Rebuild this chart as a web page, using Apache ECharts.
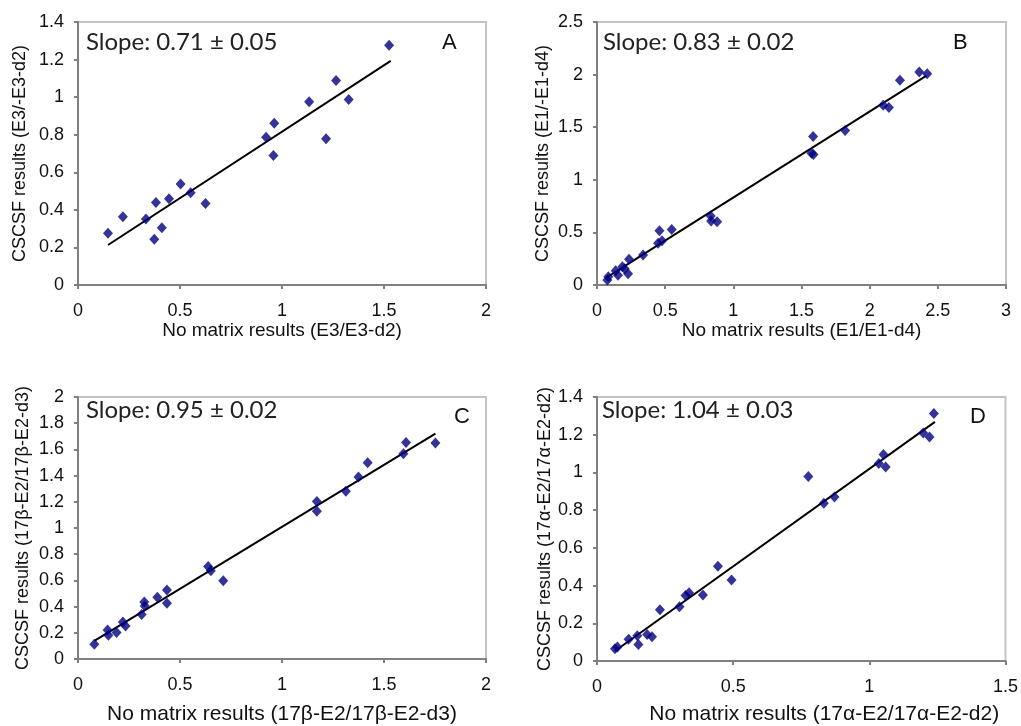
<!DOCTYPE html>
<html><head><meta charset="utf-8">
<script src="https://cdn.jsdelivr.net/npm/echarts@6/dist/echarts.min.js"></script>
<style>html,body{margin:0;padding:0;background:#fff}#c{width:1021px;height:726px}</style>
</head><body><div id="c"></div>
<script>
// Panel A
const aPoints = [[0.147,0.275],[0.220,0.363],[0.333,0.351],[0.374,0.243],[0.382,0.439],[0.411,0.305],[0.446,0.459],[0.503,0.537],[0.552,0.491],[0.625,0.434],[0.922,0.787],[0.962,0.861],[0.958,0.689],[1.133,0.976],[1.216,0.778],[1.265,1.088],[1.327,0.987],[1.525,1.276]];
const aTrend = [[0.147,0.213],[1.533,1.193]];
// Panel B
const bPoints = [[0.076,0.047],[0.083,0.079],[0.137,0.136],[0.154,0.092],[0.186,0.174],[0.203,0.155],[0.228,0.108],[0.235,0.244],[0.338,0.285],[0.448,0.396],[0.458,0.516],[0.477,0.421],[0.548,0.528],[0.834,0.655],[0.837,0.608],[0.881,0.601],[1.573,1.253],[1.585,1.411],[1.588,1.241],[1.820,1.468],[2.099,1.709],[2.141,1.687],[2.222,1.946],[2.364,2.025],[2.422,2.009]];
const bTrend = [[0.069,0.070],[2.417,1.991]];
// Panel C
const cPoints = [[0.080,0.113],[0.145,0.222],[0.149,0.182],[0.189,0.202],[0.220,0.282],[0.233,0.252],[0.312,0.340],[0.325,0.436],[0.327,0.404],[0.389,0.472],[0.436,0.527],[0.436,0.426],[0.638,0.706],[0.651,0.673],[0.712,0.598],[1.171,1.203],[1.171,1.127],[1.313,1.281],[1.375,1.390],[1.420,1.498],[1.595,1.566],[1.608,1.652],[1.752,1.649]];
const cTrend = [[0.080,0.139],[1.752,1.720]];
// Panel D
const dPoints = [[0.066,0.065],[0.075,0.074],[0.116,0.115],[0.148,0.134],[0.152,0.088],[0.184,0.141],[0.202,0.129],[0.231,0.272],[0.303,0.288],[0.325,0.348],[0.338,0.362],[0.389,0.350],[0.444,0.503],[0.494,0.429],[0.776,0.978],[0.833,0.837],[0.872,0.870],[1.035,1.047],[1.052,1.095],[1.060,1.029],[1.198,1.209],[1.221,1.188],[1.237,1.312]];
const dTrend = [[0.066,0.053],[1.241,1.268]];

const panelLetters = ['A','B','C','D'];
const slopeTexts = ['Slope: 0.71 \u00b1 0.05','Slope: 0.83 \u00b1 0.02','Slope: 0.95 \u00b1 0.02','Slope: 1.04 \u00b1 0.03'];
const xNames = ['No matrix results (E3/E3-d2)','No matrix results (E1/E1-d4)','No matrix results (17\u03b2-E2/17\u03b2-E2-d3)','No matrix results (17\u03b1-E2/17\u03b1-E2-d2)'];
const yNames = ['CSCSF results (E3/-E3-d2)','CSCSF results (E1/-E1-d4)','CSCSF results (17\u03b2-E2/17\u03b2-E2-d3)','CSCSF results (17\u03b1-E2/17\u03b1-E2-d2)'];
const xMax = [2,3,2,1.5];
const yMax = [1.4,2.5,2,1.4];
const yStep = [0.2,0.5,0.2,0.2];
const xStep = 0.5;

const pointSets = [aPoints,bPoints,cPoints,dPoints];
const trendSets = [aTrend,bTrend,cTrend,dTrend];

const grids = [
  {left:78, top:22, width:408, height:263},
  {left:597, top:22, width:409, height:263},
  {left:78, top:397, width:408, height:265},
  {left:597, top:397, width:409, height:265}
];
const xNameGap = [30,30,45,43];
const xNameSize = [19,19,21,21];
const xNamePadLeft = [0,0,0,46];
const yNameGap = [49,45,46,43];
const slopePos = [[86,30],[603,30],[86,398],[602,398]];
const letterPos = [[442,32],[953,32],[454,406],[970,406]];

const labelFont = {fontFamily:'Liberation Sans, Arial, sans-serif', fontSize:18, color:'#111'};
const axisLineStyle = {color:'#808080', width:2};

const option = {
  animation:false,
  backgroundColor:'#fff',
  grid: grids.map(g => Object.assign({show:true, borderColor:'#c4c4c4', borderWidth:2, backgroundColor:'transparent'}, g)),
  xAxis: grids.map((g,i) => ({
    gridIndex:i, type:'value', min:0, max:xMax[i], interval:xStep,
    name:xNames[i], nameLocation:'middle', nameGap:xNameGap[i],
    nameTextStyle:{fontFamily:'Liberation Sans, Arial, sans-serif', fontSize:xNameSize[i], color:'#111', padding:[0,0,0,xNamePadLeft[i]]},
    axisLine:{show:true, onZero:false, lineStyle:axisLineStyle},
    axisTick:{show:true, length:4, lineStyle:axisLineStyle},
    axisLabel:Object.assign({margin:17}, labelFont),
    splitLine:{show:false}
  })),
  yAxis: grids.map((g,i) => ({
    gridIndex:i, type:'value', min:0, max:yMax[i], interval:yStep[i],
    name:yNames[i], nameLocation:'middle', nameGap:yNameGap[i],
    nameTextStyle:{fontFamily:'Liberation Sans, Arial, sans-serif', fontSize:18, color:'#111'},
    axisLine:{show:true, onZero:false, lineStyle:axisLineStyle},
    axisTick:{show:true, length:4, lineStyle:axisLineStyle},
    axisLabel:Object.assign({margin:14}, labelFont),
    splitLine:{show:false}
  })),
  title: [].concat(
    slopeTexts.map((t,i) => ({text:t, left:slopePos[i][0], top:slopePos[i][1], padding:0,
      textStyle:{fontFamily:'Lato, Open Sans, sans-serif', fontSize:24, fontWeight:'normal', color:'#222'}})),
    panelLetters.map((t,i) => ({text:t, left:letterPos[i][0], top:letterPos[i][1], padding:0,
      textStyle:{fontFamily:'Liberation Sans, Arial, sans-serif', fontSize:22, fontWeight:'normal', color:'#111'}}))
  ),
  series: [].concat(
    trendSets.map((d,i) => ({type:'line', xAxisIndex:i, yAxisIndex:i, data:d, symbol:'none',
      lineStyle:{color:'#000', width:2}, z:2, silent:true})),
    pointSets.map((d,i) => ({type:'scatter', xAxisIndex:i, yAxisIndex:i, data:d, symbol:'diamond',
      symbolSize:[10,11], itemStyle:{color:'#000080'}, z:3}))
  )
};
echarts.init(document.getElementById('c'), null, {renderer:'canvas'}).setOption(option);
</script></body></html>
